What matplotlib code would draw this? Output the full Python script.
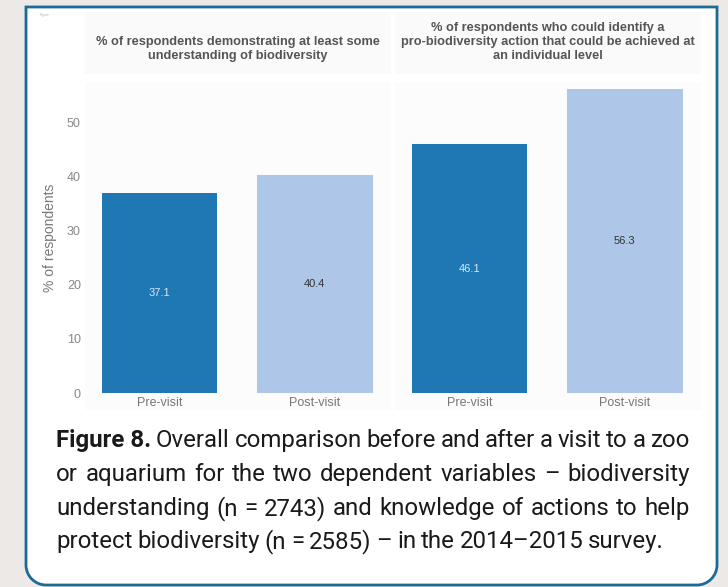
import matplotlib
matplotlib.use("Agg")
import matplotlib.pyplot as plt
from matplotlib.patches import Rectangle, PathPatch
from matplotlib.path import Path
from matplotlib.transforms import Bbox, TransformedBbox

# values per panel
visits = ["Pre-visit", "Post-visit"]
understanding = [37.1, 40.4]
action = [46.1, 56.3]
panel_titles = [
    "% of respondents demonstrating at least some\nunderstanding of biodiversity",
    "% of respondents who could identify a\npro-biodiversity action that could be achieved at\nan individual level",
]
y_ticks = [0, 10, 20, 30, 40, 50]

caption_lines = [
    [("Figure 8.", "bold"), "Overall", "comparison", "before", "and", "after", "a", "visit", "to", "a", "zoo"],
    ["or", "aquarium", "for", "the", "two", "dependent", "variables", "\u2013", "biodiversity"],
    ["understanding", "(n", "=", "2743)", "and", "knowledge", "of", "actions", "to", "help"],
    ["protect", "biodiversity", "(n", "=", "2585)", "\u2013", "in", "the", "2014\u20132015", "survey."],
]

DARK = "#1f77b4"
LIGHT = "#aec7e8"
W, H = 728, 587

plt.rcParams["font.family"] = ["Liberation Sans", "DejaVu Sans"]
fig = plt.figure(figsize=(W / 100, H / 100), dpi=100)
fig.patch.set_facecolor("#ece9e6")


def fx(x):
    return x / W


def fy(y):
    return 1 - y / H


# outer box: square top corners, rounded bottom corners
x0, x1, yt, yb, r = 26, 717, 7, 585, 20
k = 0.55 * r
pts = [(x0, yt), (x1, yt), (x1, yb - r), (x1, yb - r + k), (x1 - r + k, yb), (x1 - r, yb),
       (x0 + r, yb), (x0 + r - k, yb), (x0, yb - r + k), (x0, yb - r), (x0, yt)]
codes = [Path.MOVETO, Path.LINETO, Path.LINETO, Path.CURVE4, Path.CURVE4, Path.CURVE4,
         Path.LINETO, Path.CURVE4, Path.CURVE4, Path.CURVE4, Path.CLOSEPOLY]
box = Path([(fx(a), fy(b)) for a, b in pts], codes)
fig.patches.append(PathPatch(box, transform=fig.transFigure, facecolor="white",
                             edgecolor="#1c6a98", linewidth=2.0, zorder=-3))

fig.text(fx(40), fy(15), "Figure", fontsize=2.5, color="#b8b8b8", va="center")

panels = [(85, understanding), (395, action)]
axes = []
for i, (left, vals) in enumerate(panels):
    # faint strip behind the facet title and faint panel
    fig.patches.append(Rectangle((fx(left), fy(74)), 306 / W, 62 / H, transform=fig.transFigure,
                                 facecolor="#fafafa", edgecolor="none", zorder=-2))
    fig.patches.append(Rectangle((fx(left), fy(410)), 306 / W, 328 / H, transform=fig.transFigure,
                                 facecolor="#fcfcfc", edgecolor="none", zorder=-2))
    ax = fig.add_axes([fx(left), fy(393), 306 / W, (393 - 83) / H])
    ax.set_facecolor("none")
    ax.bar([0, 1], vals, width=0.745, color=[DARK, LIGHT])
    for j, v in enumerate(vals):
        ax.text(j, v / 2, f"{v:.1f}", ha="center", va="center", fontsize=8,
                color="#dce7f2" if j == 0 else "#333333")
    ax.set_xlim(-0.48, 1.49)
    ax.set_ylim(0, 57.4)
    ax.set_xticks([0, 1])
    ax.set_xticklabels(visits, fontsize=9, color="#777777")
    ax.set_yticks(y_ticks)
    if i == 0:
        ax.set_yticklabels([str(t) for t in y_ticks], fontsize=9, color="#888888")
        ax.set_ylabel("% of respondents", fontsize=10, color="#777777", labelpad=7)
    else:
        ax.set_yticklabels([])
    ax.tick_params(axis="y", length=0, pad=3)
    ax.tick_params(axis="x", length=0, pad=3)
    for s in ax.spines.values():
        s.set_visible(False)

    t = fig.text(fx(left + 153), fy(62), panel_titles[i], ha="center", va="bottom",
                 fontsize=9.2, fontweight="bold", color="#555555", linespacing=1.25)
    t.set_clip_on(True)
    t.set_clip_box(TransformedBbox(Bbox([[fx(left), 0], [fx(left + 309), 1]]), fig.transFigure))
    axes.append(ax)

# justified caption
renderer = fig.canvas.get_renderer()
cx0, cx1 = 56, 690
baselines = [447, 481, 515, 548]
cap_font = ["Roboto", "DejaVu Sans"]


def word_width(word, size, weight):
    t = fig.text(0, 0, word, fontsize=size, fontweight=weight, family=cap_font)
    w = t.get_window_extent(renderer).width
    t.remove()
    return w


def tokens(line):
    return [tk if isinstance(tk, tuple) else (tk, "normal") for tk in line]


ref_size = 10
space = (word_width("a a", ref_size, "normal") - 2 * word_width("a", ref_size, "normal")) * 0.8
natural = []
for line in caption_lines[:3]:
    toks = tokens(line)
    natural.append(sum(word_width(w, ref_size, wt) for w, wt in toks) + space * (len(toks) - 1))
size = ref_size * (cx1 - cx0) / max(natural)

for n, line in enumerate(caption_lines):
    toks = tokens(line)
    widths = [word_width(w, size, wt) for w, wt in toks]
    if n < 3:
        gap = (cx1 - cx0 - sum(widths)) / (len(toks) - 1)
    else:
        gap = space * size / ref_size
    x = cx0
    for (w, wt), wd in zip(toks, widths):
        fig.text(fx(x), fy(baselines[n]), w, fontsize=size, fontweight=wt, family=cap_font,
                 color="#1a1a1a", va="baseline", ha="left")
        x += wd + gap

fig.savefig("out.png", dpi=100, facecolor=fig.get_facecolor())
